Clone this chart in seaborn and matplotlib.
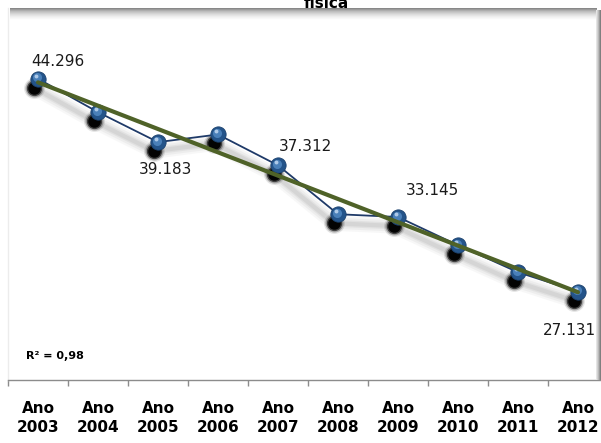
import numpy as np
import pandas as pd
import matplotlib
matplotlib.use("Agg")
import matplotlib.pyplot as plt
import matplotlib.transforms as mtransforms
import seaborn as sns

# ---- data ----
years = ["2003", "2004", "2005", "2006", "2007", "2008", "2009", "2010", "2011", "2012"]
values = [44296, 41600, 39183, 39800, 37312, 33370, 33145, 30870, 28690, 27131]
labelled_years = ["2003", "2005", "2007", "2009", "2012"]
tick_labels = ["Ano\n" + y for y in years]
title_text = "física"
r2_text = "R² = 0,98"

df = pd.DataFrame({"x": np.arange(len(years)), "value": np.array(values) / 1000.0, "year": years})

sns.set_theme(style="white")
plt.rcParams["font.family"] = ["DejaVu Sans"]

W, H = 601, 443
fig = plt.figure(figsize=(W / 100, H / 100), dpi=100)
fig.patch.set_facecolor("white")

# axes: x from 8px to 608px, y from 8px (top) to 380px (axis line)
ax = fig.add_axes([8 / W, 1 - 380 / H, 600 / W, 372 / H])
ax.set_facecolor("white")
ax.set_xlim(-0.5, 9.5)
ax.set_ylim(20, 50)

# line shadow (offset down-left, soft grey)
sh_off = mtransforms.offset_copy(ax.transData, fig=fig, x=-4, y=-9, units="dots")
for lw, a in [(11, 0.06), (8, 0.08), (5, 0.10), (3, 0.12)]:
    ax.plot(df["x"], df["value"], color="#808080", lw=lw, alpha=a, transform=sh_off,
            solid_capstyle="round", solid_joinstyle="round", zorder=1)

# marker shadows
for ms, a in [(15, 0.10), (13, 0.25), (11, 0.6), (9, 0.95)]:
    ax.plot(df["x"], df["value"], ls="none", marker="o", ms=ms, mfc="black", mec="none",
            alpha=a, transform=sh_off, zorder=2)

# main line with markers
sns.lineplot(data=df, x="x", y="value", ax=ax, color="#1f3a68", lw=1.3, zorder=3,
             marker="o", markersize=11, markerfacecolor="#24548a", markeredgecolor="#1c426e",
             markeredgewidth=0.6)
# sphere highlights
hl = mtransforms.offset_copy(ax.transData, fig=fig, x=-1, y=1.5, units="dots")
ax.plot(df["x"], df["value"], ls="none", marker="o", ms=6.5, mfc="#4f86bf", mec="none",
        transform=hl, zorder=4, alpha=0.9)
hl2 = mtransforms.offset_copy(ax.transData, fig=fig, x=-2, y=3, units="dots")
ax.plot(df["x"], df["value"], ls="none", marker="o", ms=2.8, mfc="#b9d2ee", mec="none",
        transform=hl2, zorder=4, alpha=0.9)

# linear trend line
sns.regplot(data=df, x="x", y="value", ax=ax, scatter=False, ci=None,
            line_kws={"color": "#4f6228", "lw": 3, "zorder": 5})

# data labels
label_offsets = {"2003": (20, 17), "2005": (7, -27), "2007": (27, 19), "2009": (34, 27), "2012": (-9, -39)}
for y in labelled_years:
    i = years.index(y)
    v = values[i]
    txt = f"{v:,}".replace(",", ".")
    dx, dy = label_offsets[y]
    ax.annotate(txt, (i, v / 1000.0), xytext=(dx, dy), textcoords="offset pixels",
                ha="center", va="center", fontsize=11, color="#1a1a1a", zorder=6)

# axes styling
ax.set_xlabel("")
ax.set_ylabel("")
ax.set_yticks([])
ax.set_xticks(range(len(years)))
ax.set_xticklabels(tick_labels, fontsize=11, fontweight="bold", color="black", linespacing=1.35)
ax.set_xticks(np.arange(-0.5, 10, 1.0), minor=True)
ax.tick_params(axis="x", which="major", length=0, pad=15)
ax.tick_params(axis="x", which="minor", length=4, width=1, color="#8c8c8c", direction="out", bottom=True)
for s in ["top", "right"]:
    ax.spines[s].set_visible(False)
ax.spines["bottom"].set_color("#8c8c8c")
ax.spines["bottom"].set_linewidth(1)
ax.spines["left"].set_color("#ececec")
ax.spines["left"].set_linewidth(1)

# top inner shadow band of the plot area
band = fig.add_axes([10 / W, 1 - 20 / H, 587 / W, 12 / H])
grad = np.linspace(0, 1, 50).reshape(-1, 1) ** 0.8
band.imshow(grad, aspect="auto", cmap="Greys_r", vmin=-0.7, vmax=1.0,
            extent=[0, 1, 0, 1], origin="upper")
band.set_axis_off()

# right shadow strip
rs = fig.add_axes([596 / W, 1 - 380 / H, 5 / W, 370 / H])
g2 = np.linspace(0, 1, 20).reshape(1, -1)
rs.imshow(g2, aspect="auto", cmap="Greys", vmin=-0.3, vmax=1.8, extent=[0, 1, 0, 1])
rs.set_axis_off()

# title (cut off at the top, as in the source) and R²
fig.text(326 / W, 1 - 8 / H, title_text, ha="center", va="baseline", fontsize=11,
         fontweight="bold", color="black")
fig.text(26 / W, 1 - 356 / H, r2_text, ha="left", va="center", fontsize=8,
         fontweight="bold", color="black")

fig.savefig("out.png", dpi=100, facecolor="white")
